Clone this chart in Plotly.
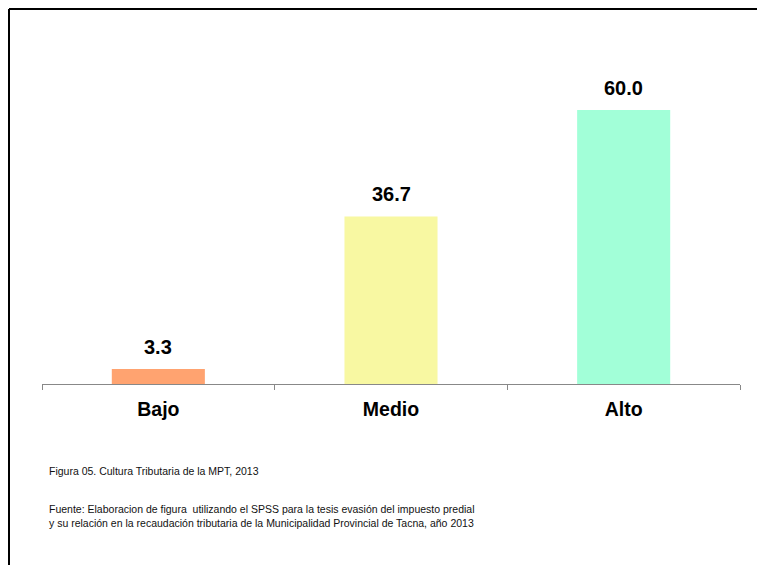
import plotly.graph_objects as go

categories = ["Bajo", "Medio", "Alto"]
values = [3.3, 36.7, 60.0]
bar_colors = ["#FFA370", "#F8F8A2", "#A2FFD8"]

W, H = 757, 565

axis_y = 384
left_x = 42
right_x = 740
top_y = 30

ml, mr, mt, mb = left_x, W - right_x, top_y, H - axis_y
plot_w = W - ml - mr
plot_h = H - mt - mb
px_per_unit = 274 / 60.0
ymax = plot_h / px_per_unit

FONT = "Liberation Sans, Arial"

fig = go.Figure(go.Bar(
    x=categories, y=values,
    marker=dict(color=bar_colors, line=dict(width=0)),
    width=0.4,
    hoverinfo="x+y",
))

for c, v in zip(categories, values):
    fig.add_annotation(x=c, y=v, xref="x", yref="y", text=f"{v:.1f}",
                       showarrow=False, yanchor="bottom", yshift=9,
                       font=dict(family=FONT, size=20, color="black", weight="bold"))

fig.update_layout(
    width=W, height=H,
    margin=dict(l=ml, r=mr, t=mt, b=mb, pad=0),
    plot_bgcolor="white", paper_bgcolor="white",
    showlegend=False,
    font=dict(family=FONT, color="black"),
    xaxis=dict(
        showline=True, linecolor="#888888", linewidth=1,
        ticks="outside", tickson="boundaries", ticklen=5, tickcolor="#888888",
        ticklabelstandoff=8,
        tickfont=dict(size=19.5, color="black", weight="bold"),
        showgrid=False, zeroline=False,
    ),
    yaxis=dict(range=[0, ymax], visible=False, showgrid=False, zeroline=False),
)

def px_to_paper_x(px):
    return (px - ml) / plot_w

def px_to_paper_y(py):
    return (H - mb - py) / plot_h

# outer frame (top and left edges visible)
fx, fy = 9, 9
fig.add_shape(type="line", xref="paper", yref="paper",
              x0=px_to_paper_x(fx), x1=px_to_paper_x(800),
              y0=px_to_paper_y(fy), y1=px_to_paper_y(fy),
              line=dict(color="black", width=2))
fig.add_shape(type="line", xref="paper", yref="paper",
              x0=px_to_paper_x(fx), x1=px_to_paper_x(fx),
              y0=px_to_paper_y(fy), y1=px_to_paper_y(600),
              line=dict(color="black", width=2))

caption1 = "Figura 05. Cultura Tributaria de la MPT, 2013"
caption2 = ("Fuente: Elaboracion de figura  utilizando el SPSS para la tesis evasión del impuesto predial<br>"
            "y su relación en la recaudación tributaria de la Municipalidad Provincial de Tacna, año 2013")

fig.add_annotation(xref="paper", yref="paper", x=px_to_paper_x(47), y=px_to_paper_y(471),
                   text=caption1, showarrow=False, xanchor="left", yanchor="middle",
                   font=dict(family=FONT, size=10.5, color="#111111"), align="left")
fig.add_annotation(xref="paper", yref="paper", x=px_to_paper_x(47), y=px_to_paper_y(516),
                   text=caption2, showarrow=False, xanchor="left", yanchor="middle",
                   font=dict(family=FONT, size=10.5, color="#111111"), align="left")

fig.write_html("out.html",
               config={"displayModeBar": False},
               post_script="document.body.style.margin='0px';document.body.style.overflow='hidden';")
